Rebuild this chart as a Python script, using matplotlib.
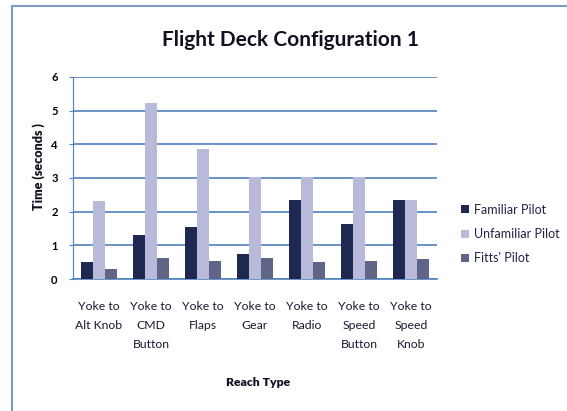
import matplotlib
matplotlib.use("Agg")
import matplotlib.pyplot as plt
import numpy as np
from matplotlib.lines import Line2D

categories = ["Yoke to\nAlt Knob", "Yoke to\nCMD\nButton", "Yoke to\nFlaps", "Yoke to\nGear",
              "Yoke to\nRadio", "Yoke to\nSpeed\nButton", "Yoke to\nSpeed\nKnob"]
familiar = [0.5, 1.3, 1.55, 0.73, 2.36, 1.63, 2.36]
unfamiliar = [2.33, 5.23, 3.85, 3.04, 3.04, 3.04, 2.34]
fitts = [0.3, 0.61, 0.54, 0.61, 0.51, 0.54, 0.58]
series_names = ["Familiar Pilot", "Unfamiliar Pilot", "Fitts' Pilot"]
yticks = [0, 1, 2, 3, 4, 5, 6]

colors = ["#1f2850", "#b9bad9", "#5f6587"]
font = ["Lato", "DejaVu Sans"]

W, H = 567, 411
fig = plt.figure(figsize=(W / 100, H / 100), dpi=100)
ax = fig.add_axes([73 / W, 1 - 279 / H, (437 - 73) / W, (279 - 77) / H])

x = np.arange(len(categories))
bw = 0.23
for i, (vals, name) in enumerate(zip([familiar, unfamiliar, fitts], series_names)):
    ax.bar(x + (i - 1) * bw, vals, width=bw, color=colors[i], label=name, zorder=3)

ax.set_xlim(-0.5, len(categories) - 0.5)
ax.set_ylim(0, 6)
ax.set_yticks(yticks)
ax.set_yticklabels([str(t) for t in yticks], fontsize=8, family=font, fontweight="bold")
ax.set_xticks(x)
ax.set_xticklabels(categories, fontsize=8.8, family=font, va="top", linespacing=1.85,
                   color="#1a1a33")
ax.tick_params(axis="x", length=0, pad=16)
ax.tick_params(axis="y", length=3, pad=8, color="#4f81bd")
ax.yaxis.grid(True, color="#4f81bd", linewidth=1.2, zorder=0)
for s in ["top", "right"]:
    ax.spines[s].set_visible(False)
ax.spines["left"].set_color("#4f81bd")
ax.spines["bottom"].set_color("#4f81bd")
ax.spines["bottom"].set_linewidth(1.2)

fig.text(39 / W, 1 - 167 / H, "Time (seconds )", rotation=90, ha="center", va="center",
         fontsize=9, family=font, fontweight="heavy", color="#111122")
fig.text(258 / W, 1 - 382 / H, "Reach Type", ha="center", va="center",
         fontsize=8.8, family=font, fontweight="heavy", color="#111122")

fig.text(290 / W, 1 - 40 / H, "Flight Deck Configuration 1", ha="center", va="center",
         fontsize=15, family=font, fontweight="bold", color="#111122")

leg = fig.legend(loc="center left", bbox_to_anchor=(450 / W, 1 - 234 / H), frameon=False,
                 prop={"family": font, "size": 9}, handlelength=0.6, handleheight=0.6,
                 handletextpad=0.4, labelspacing=1.0)
for t in leg.get_texts():
    t.set_color("#222244")

fig.add_artist(Line2D([12 / W, 1], [1 - 6 / H, 1 - 6 / H], transform=fig.transFigure,
                      color="#7f9cc4", linewidth=1.5))
fig.add_artist(Line2D([12 / W, 12 / W], [0, 1 - 6 / H], transform=fig.transFigure,
                      color="#7f9cc4", linewidth=1.5))

fig.savefig("out.png", dpi=100)
